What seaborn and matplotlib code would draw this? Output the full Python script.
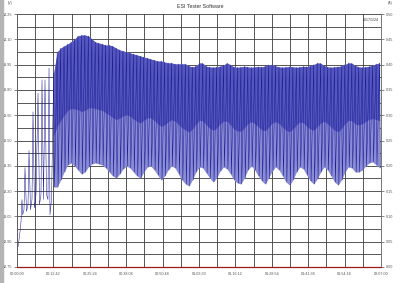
import numpy as np
import pandas as pd
import matplotlib
matplotlib.use("Agg")
import matplotlib.pyplot as plt
from matplotlib.patches import Rectangle
import seaborn as sns

sns.set_theme(style="white")
plt.rcParams['font.family'] = ['Liberation Sans', 'DejaVu Sans']

# ---------------- data ----------------
title = "ESI Tester Software"
date_text = "2017/1/24"
x_tick_labels = ["00:00:00", "00:12:42", "00:25:24", "00:38:06", "00:50:48", "01:03:30",
                 "01:16:12", "01:28:54", "01:41:36", "01:54:18", "02:07:00"]
v_ticks = [12.75, 12.90, 13.05, 13.20, 13.35, 13.50, 13.65, 13.80, 13.95, 14.10, 14.25]
a_ticks = [0.00, 0.05, 0.10, 0.15, 0.20, 0.25, 0.30, 0.35, 0.40, 0.45, 0.50]

# start-up phase (minutes, volts)
early_t = [0.35, 0.70, 1.05, 1.40, 1.74, 1.99, 2.44, 2.79, 3.31, 3.84, 4.19, 4.71, 5.23,
           5.58, 6.10, 6.63, 7.33, 7.85, 8.37, 8.72, 9.25, 9.77, 10.29, 10.80, 11.17,
           11.51, 12.04]
early_v = [12.87, 12.91, 12.96, 13.02, 13.15, 13.06, 13.09, 13.34, 13.08, 13.12, 13.44,
           13.09, 13.15, 13.67, 13.10, 13.18, 13.78, 13.12, 13.18, 13.86, 13.15, 13.86,
           13.18, 13.15, 13.93, 13.06, 13.15]

# pulsed phase: per-cycle peak and trough voltages
cycle_high = [13.900, 14.025, 14.048, 14.060, 14.072, 14.084, 14.102, 14.120, 14.125, 14.125,
              14.120, 14.102, 14.084, 14.078, 14.072, 14.066, 14.066, 14.060, 14.048, 14.037,
              14.031, 14.025, 14.019, 14.013, 14.007, 14.001, 13.995, 13.989, 13.983, 13.977,
              13.971, 13.971, 13.965, 13.960, 13.960, 13.954, 13.954, 13.954, 13.954, 13.942,
              13.936, 13.942, 13.960, 13.958, 13.940, 13.936, 13.934, 13.936, 13.940, 13.948,
              13.960, 13.948, 13.936, 13.934, 13.936, 13.940, 13.936, 13.934, 13.936, 13.938,
              13.936, 13.942, 13.948, 13.950, 13.942, 13.936, 13.934, 13.936, 13.938, 13.936,
              13.934, 13.936, 13.940, 13.938, 13.942, 13.950, 13.960, 13.958, 13.944, 13.936,
              13.934, 13.936, 13.938, 13.942, 13.950, 13.960, 13.958, 13.944, 13.936, 13.934,
              13.936, 13.940, 13.946, 13.954, 13.960]
cycle_low = [13.224, 13.224, 13.266, 13.313, 13.355, 13.367, 13.349, 13.325, 13.301, 13.313,
             13.343, 13.361, 13.367, 13.361, 13.355, 13.337, 13.313, 13.290, 13.278, 13.301,
             13.331, 13.349, 13.337, 13.313, 13.290, 13.278, 13.313, 13.343, 13.349, 13.325,
             13.295, 13.266, 13.290, 13.325, 13.349, 13.337, 13.301, 13.266, 13.242, 13.230,
             13.266, 13.313, 13.343, 13.337, 13.307, 13.278, 13.254, 13.278, 13.319, 13.343,
             13.331, 13.301, 13.266, 13.248, 13.242, 13.278, 13.325, 13.349, 13.325, 13.290,
             13.260, 13.242, 13.278, 13.319, 13.343, 13.325, 13.290, 13.254, 13.236, 13.266,
             13.313, 13.343, 13.331, 13.295, 13.260, 13.242, 13.272, 13.313, 13.343, 13.325,
             13.290, 13.254, 13.236, 13.266, 13.313, 13.343, 13.337, 13.313, 13.313, 13.325,
             13.349, 13.367, 13.373, 13.355, 13.337]
cycle_start, cycle_end = 12.8, 126.5      # minutes
current_t = [0.0, 127.0]
current_a = [0.0, 0.0]

# ---------------- build series ----------------
n = len(cycle_high)
ct = np.linspace(cycle_start, cycle_end, n)
period = (cycle_end - cycle_start) / (n - 1)
hi = np.array(cycle_high)
lo = np.array(cycle_low)

zz_t = np.column_stack([ct, ct + 0.25 * period]).ravel()
zz_v = np.column_stack([hi, lo]).ravel()
line_df = pd.DataFrame({
    "t": np.concatenate([early_t, zz_t]),
    "v": np.concatenate([early_v, zz_v]),
})
split = lo + 0.45 * (hi - lo)

# ---------------- figure ----------------
fig = plt.figure(figsize=(4.0, 2.83), dpi=100, facecolor="white")
ax = fig.add_axes([17 / 400, 1 - 267 / 283, (381 - 17) / 400, (267 - 14) / 283])
ax.set_facecolor("white")
ax.set_axisbelow(True)

ax.fill_between(ct, lo, hi, color="#8a8cd4", lw=0, zorder=2)
ax.fill_between(ct, split, hi, color="#5557bd", lw=0, zorder=2)
sns.lineplot(data=line_df, x="t", y="v", sort=False, estimator=None, ax=ax,
             color="#1a1a95", lw=0.35, zorder=3)

ax.set_xlim(0, 127)
ax.set_ylim(12.75, 14.25)
x_ticks = np.linspace(0, 127, len(x_tick_labels))
ax.set_xticks(x_ticks)
ax.set_xticklabels(x_tick_labels)
ax.set_xticks(np.linspace(0, 127, 2 * len(x_tick_labels) - 1), minor=True)
ax.set_yticks(v_ticks)
ax.set_yticklabels([f"{v:.2f}" for v in v_ticks])
ax.set_yticks(np.linspace(12.75, 14.25, 2 * len(v_ticks) - 1), minor=True)
ax.grid(True, which="both", color="#3c3c3c", lw=0.6)
ax.set_xlabel("")
ax.set_ylabel("")
ax.tick_params(axis="both", which="major", labelsize=2.7, colors="#555555",
               length=2, width=0.5, pad=1.5)
ax.tick_params(axis="both", which="minor", length=0)
for s in ["top", "right"]:
    ax.spines[s].set_visible(False)
ax.spines["left"].set_color("#606060")
ax.spines["left"].set_linewidth(0.6)
ax.spines["bottom"].set_visible(False)

ax2 = ax.twinx()
ax2.set_ylim(0, 0.5)
ax2.set_yticks(a_ticks)
ax2.set_yticklabels([f"{a:.2f}" for a in a_ticks])
ax2.tick_params(axis="y", labelsize=2.7, colors="#555555", length=2, width=0.5, pad=1.5)
for s in ["top", "left", "bottom"]:
    ax2.spines[s].set_visible(False)
ax2.spines["right"].set_color("#606060")
ax2.spines["right"].set_linewidth(0.6)
sns.lineplot(x=current_t, y=current_a, ax=ax2, color="#9a1a1a", lw=0.9,
             clip_on=False, zorder=5)
ax2.set_ylabel("")

fig.text(0.5, 1 - 7 / 283, title, ha="center", va="center", fontsize=3.8, color="#333333")
fig.text(10 / 400, 1 - 3 / 283, "(V)", ha="center", va="center", fontsize=2.6, color="#555555")
fig.text(390 / 400, 1 - 3 / 283, "(A)", ha="center", va="center", fontsize=2.6, color="#555555")
ax.text(0.995, 0.985, date_text, transform=ax.transAxes, ha="right", va="top",
        fontsize=2.6, color="#333333")

fig.patches.append(Rectangle((0, 0), 3 / 400, 1, transform=fig.transFigure,
                             color="#b4b4b4", zorder=0))

fig.savefig("out.png", dpi=100, facecolor="white")
